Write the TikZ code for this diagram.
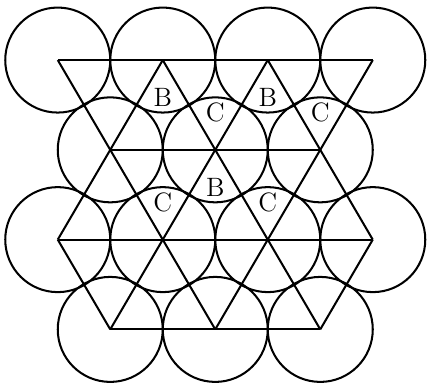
\documentclass[tikz,border=0pt]{standalone}
\usepackage{tikz}
\usetikzlibrary{calc}

\begin{document}
\begin{tikzpicture}[line width=1.1pt,
		site/.style={font=\Large,inner sep=0pt}]
		\useasboundingbox (0,0) rectangle (8.171,7.314);
		
		% 球心（第一层）
		\coordinate (A1) at (1.1,6.17);
		\coordinate (A2) at (3.1,6.17);
		\coordinate (A3) at (5.1,6.17);
		\coordinate (A4) at (7.1,6.17);
		\coordinate (B1) at (2.1,4.46);
		\coordinate (B2) at (4.1,4.46);
		\coordinate (B3) at (6.1,4.46);
		\coordinate (C1) at (1.1,2.75);
		\coordinate (C2) at (3.1,2.75);
		\coordinate (C3) at (5.1,2.75);
		\coordinate (C4) at (7.1,2.75);
		\coordinate (D1) at (2.1,1.04);
		\coordinate (D2) at (4.1,1.04);
		\coordinate (D3) at (6.1,1.04);
		
		% 球
		\foreach \p in {A1,A2,A3,A4,B1,B2,B3,C1,C2,C3,C4,D1,D2,D3}
			\draw (\p) circle (1);
		
		% 水平线
		\draw (A1) -- (A4);
		\draw (B1) -- (B3);
		\draw (C1) -- (C4);
		\draw (D1) -- (D3);
		
		% 斜线（向右下）
		\draw (C1) -- (D1);
		\draw (A1) -- (B1) -- (C2) -- (D2);
		\draw (A2) -- (B2) -- (C3) -- (D3);
		\draw (A3) -- (B3) -- (C4);
		
		% 斜线（向左下）
		\draw (A2) -- (B1) -- (C1);
		\draw (A3) -- (B2) -- (C2) -- (D1);
		\draw (A4) -- (B3) -- (C3) -- (D2);
		\draw (C4) -- (D3);
		
		% 空隙位置标注
		\node[site] (sB1) at ($(A2)+(0,-0.71)$) {B};
		\node[site] (sB2) at ($(A3)+(0,-0.71)$) {B};
		\node[site] (sC1) at ($(B2)+(0,0.71)$) {C};
		\node[site] (sC2) at ($(B3)+(0,0.71)$) {C};
		\node[site] (sB3) at ($(B2)+(0,-0.71)$) {B};
		\node[site] (sC3) at ($(C2)+(0,0.71)$) {C};
		\node[site] (sC4) at ($(C3)+(0,0.71)$) {C};
	\end{tikzpicture}
\end{document}
